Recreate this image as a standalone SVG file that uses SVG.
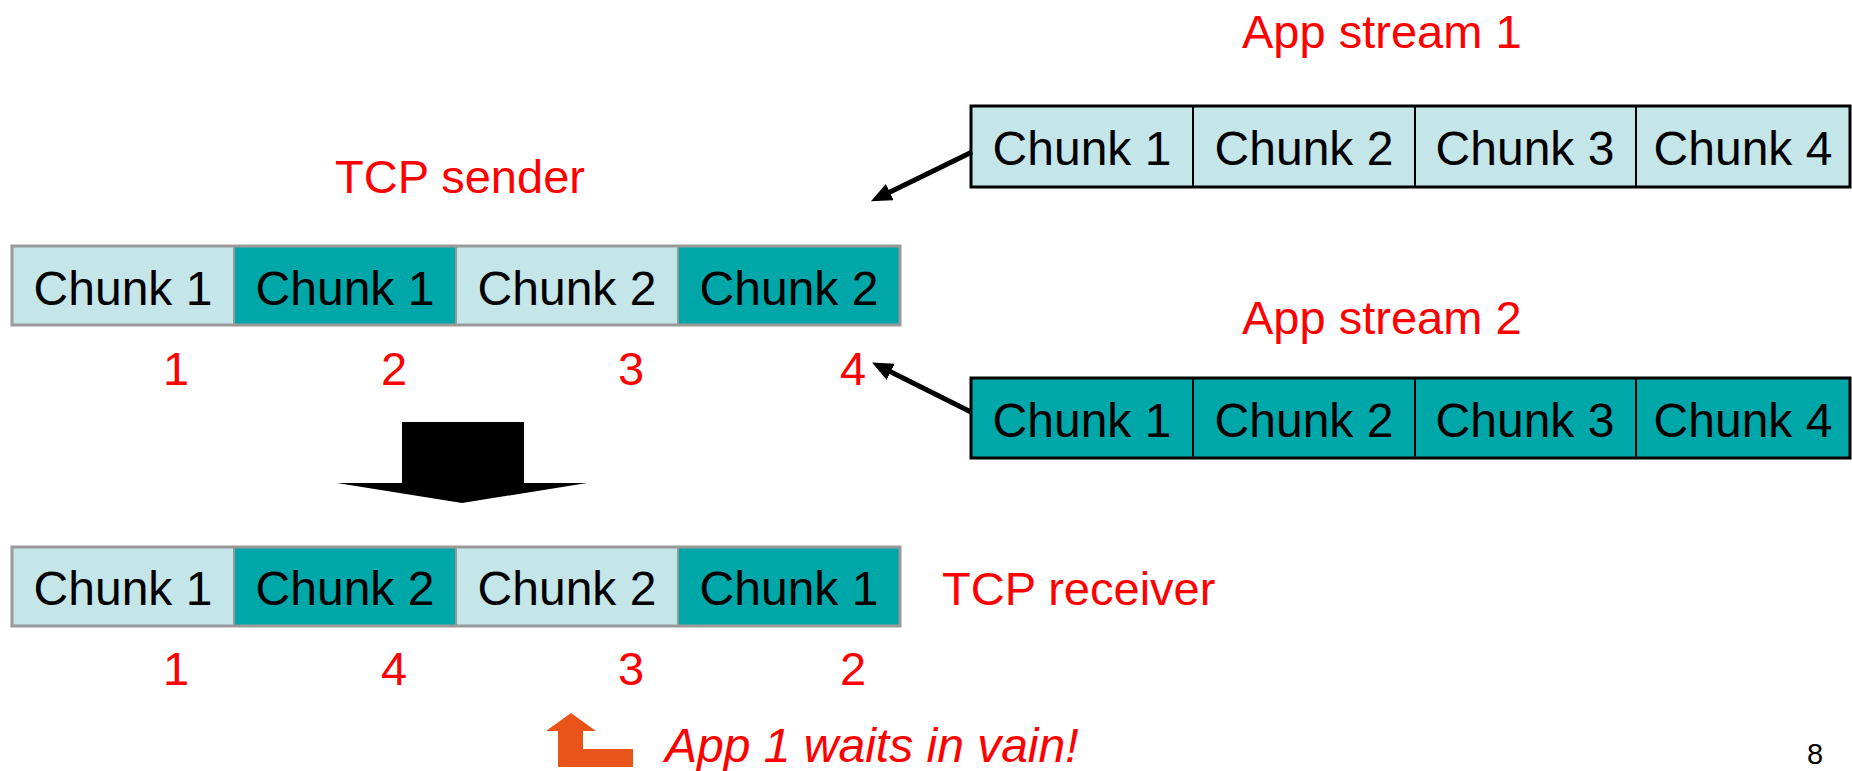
<svg xmlns="http://www.w3.org/2000/svg" width="1852" height="771" viewBox="0 0 1852 771">
<defs>
<style>
.lt{fill:#C5E6E9}
.dk{fill:#00A7A8}
.gb{fill:none;stroke:#999999;stroke-width:3}
.gd{stroke:#999999;stroke-width:2}
.bb{fill:none;stroke:#000000;stroke-width:3}
.bd{stroke:#000000;stroke-width:2}
.ck{font-family:"Liberation Sans",Arial,sans-serif;font-size:48px;fill:#000;text-anchor:middle}
.rd{font-family:"Liberation Sans",Arial,sans-serif;font-size:47px;fill:#FF0000}
.num{font-family:"Liberation Sans",Arial,sans-serif;font-size:47px;fill:#FF0000;text-anchor:middle}
.conn{stroke:#000;stroke-width:5;fill:none}
</style>
<marker id="ah" markerUnits="userSpaceOnUse" markerWidth="22" markerHeight="20" refX="2" refY="9" orient="auto">
<path d="M0,0 L21,9 L0,18 z" fill="#000"/>
</marker>
</defs>
<rect width="1852" height="771" fill="#fff"/>

<g id="app-stream-1">
<text class="rd" x="1242" y="48">App stream 1</text>
<rect class="lt" x="971" y="106" width="880" height="81"/>
<line class="bd" x1="1193" y1="106" x2="1193" y2="187"/>
<line class="bd" x1="1415" y1="106" x2="1415" y2="187"/>
<line class="bd" x1="1636" y1="106" x2="1636" y2="187"/>
<rect class="bb" x="971" y="106" width="879" height="81"/>
<text class="ck" x="1082" y="165">Chunk 1</text>
<text class="ck" x="1304" y="165">Chunk 2</text>
<text class="ck" x="1525" y="165">Chunk 3</text>
<text class="ck" x="1743" y="165">Chunk 4</text>
</g>

<g id="app-stream-2">
<text class="rd" x="1242" y="334">App stream 2</text>
<rect class="dk" x="971" y="378" width="880" height="80"/>
<line class="bd" x1="1193" y1="378" x2="1193" y2="458"/>
<line class="bd" x1="1415" y1="378" x2="1415" y2="458"/>
<line class="bd" x1="1636" y1="378" x2="1636" y2="458"/>
<rect class="bb" x="971" y="378" width="879" height="80"/>
<text class="ck" x="1082" y="437">Chunk 1</text>
<text class="ck" x="1304" y="437">Chunk 2</text>
<text class="ck" x="1525" y="437">Chunk 3</text>
<text class="ck" x="1743" y="437">Chunk 4</text>
</g>

<g id="tcp-sender">
<text class="rd" x="335" y="193">TCP sender</text>
<rect class="lt" x="12" y="246" width="222" height="79"/>
<rect class="dk" x="234" y="246" width="222" height="79"/>
<rect class="lt" x="456" y="246" width="222" height="79"/>
<rect class="dk" x="678" y="246" width="222" height="79"/>
<line class="gd" x1="234" y1="246" x2="234" y2="325"/>
<line class="gd" x1="456" y1="246" x2="456" y2="325"/>
<line class="gd" x1="678" y1="246" x2="678" y2="325"/>
<rect class="gb" x="12" y="246" width="888" height="79"/>
<text class="ck" x="123" y="305">Chunk 1</text>
<text class="ck" x="345" y="305">Chunk 1</text>
<text class="ck" x="567" y="305">Chunk 2</text>
<text class="ck" x="789" y="305">Chunk 2</text>
<text class="num" x="176" y="385">1</text>
<text class="num" x="394" y="385">2</text>
<text class="num" x="631" y="385">3</text>
<text class="num" x="853" y="385">4</text>
</g>

<g id="transfer-arrow">
<polygon points="402,422 524,422 524,483 587,483 462,503 337,483 402,483" fill="#000"/>
</g>

<g id="tcp-receiver">
<rect class="lt" x="12" y="547" width="222" height="79"/>
<rect class="dk" x="234" y="547" width="222" height="79"/>
<rect class="lt" x="456" y="547" width="222" height="79"/>
<rect class="dk" x="678" y="547" width="222" height="79"/>
<line class="gd" x1="234" y1="547" x2="234" y2="626"/>
<line class="gd" x1="456" y1="547" x2="456" y2="626"/>
<line class="gd" x1="678" y1="547" x2="678" y2="626"/>
<rect class="gb" x="12" y="547" width="888" height="79"/>
<text class="ck" x="123" y="605">Chunk 1</text>
<text class="ck" x="345" y="605">Chunk 2</text>
<text class="ck" x="567" y="605">Chunk 2</text>
<text class="ck" x="789" y="605">Chunk 1</text>
<text class="rd" x="942" y="605">TCP receiver</text>
<text class="num" x="176" y="685">1</text>
<text class="num" x="394" y="685">4</text>
<text class="num" x="631" y="685">3</text>
<text class="num" x="853" y="685">2</text>
</g>

<g id="note">
<polygon points="571,713 596,731 583,731 583,749 633,749 633,767 558,767 558,731 546,731" fill="#E8541A"/>
<text x="665" y="762" font-family="Liberation Sans, Arial, sans-serif" font-size="48" font-style="italic" fill="#FF0000">App 1 waits in vain!</text>
</g>

<g id="page-number">
<text x="1815" y="764" font-family="Liberation Sans, Arial, sans-serif" font-size="29" fill="#000" text-anchor="middle">8</text>
</g>

<g id="connectors">
<line class="conn" x1="972" y1="152" x2="888" y2="193" marker-end="url(#ah)"/>
<line class="conn" x1="971" y1="412" x2="889" y2="371" marker-end="url(#ah)"/>
</g>
</svg>
